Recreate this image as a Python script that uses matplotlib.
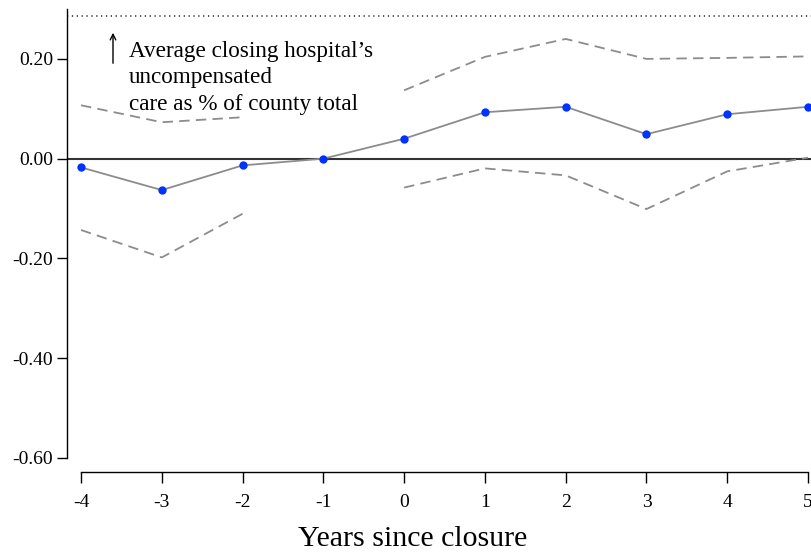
import numpy as np
import matplotlib
matplotlib.use("Agg")
import matplotlib.pyplot as plt

years = [-4, -3, -2, -1, 0, 1, 2, 3, 4, 5]
estimate = [-0.0175, -0.063, -0.0135, 0.0, 0.040, 0.093, 0.104, 0.049, 0.089, 0.104]
ci_upper = [0.107, 0.073, 0.083, np.nan, 0.137, 0.204, 0.240, 0.200, 0.202, 0.205]
ci_lower = [-0.143, -0.198, -0.1105, np.nan, -0.058, -0.0195, -0.0335, -0.101, -0.0255, 0.002]
avg_share = 0.2855
yticks = [-0.6, -0.4, -0.2, 0.0, 0.2]
ytick_labels = ["-0.60", "-0.40", "-0.20", "0.00", "0.20"]
xlabel = "Years since closure"
note_lines = ["Average closing hospital\u2019s", "uncompensated", "care as % of county total"]

plt.rcParams['font.family'] = ['Liberation Serif', 'DejaVu Serif']
plt.rcParams['lines.scale_dashes'] = False

W, H = 811, 552
fig = plt.figure(figsize=(W / 100, H / 100), dpi=100)
ax = fig.add_axes([67 / W, (H - 472) / H, (811 - 67) / W, (472 - 9) / H])

ppu_x = (808 - 81) / 9.0
ppu_y = (458 - 59.5) / 0.8
ax.set_xlim(-4 - 14 / ppu_x, 5 + 3 / ppu_x)
ax.set_ylim(-0.6 - 14 / ppu_y, 0.3)

gray = '#8c8c8c'
ax.axhline(0, color='#333333', lw=1.5, zorder=2)
ax.axhline(avg_share, color='#222222', lw=1.1, linestyle=(0, (0.9, 2.6)), zorder=2)

ax.plot(years, ci_upper, color=gray, lw=1.3, linestyle=(0, (7.5, 4.5)), zorder=3)
ax.plot(years, ci_lower, color=gray, lw=1.3, linestyle=(0, (7.5, 4.5)), zorder=3)
ax.plot(years, estimate, color=gray, lw=1.3, zorder=4)
ax.plot(years, estimate, 'o', color='#0033ff', markersize=6.0, markeredgewidth=0, zorder=5,
        clip_on=False)

for s in ['top', 'right']:
    ax.spines[s].set_visible(False)
ax.spines['left'].set_bounds(-0.6, 0.3)
ax.spines['bottom'].set_bounds(-4, 5)
ax.spines['left'].set_linewidth(1.0)
ax.spines['bottom'].set_linewidth(1.0)

ax.set_yticks(yticks)
ax.set_yticklabels(ytick_labels)
ax.set_xticks(years)
ax.set_xticklabels([str(y) for y in years])
ax.tick_params(axis='y', length=7, width=1.0, labelsize=14, pad=3)
ax.tick_params(axis='x', length=8, width=1.0, labelsize=14, pad=8)

fig.text(413 / W, (H - 546) / H, xlabel, fontsize=21.5, ha='center', va='baseline')

ax.annotate('', xy=(113 / W, (H - 30) / H), xytext=(113 / W, (H - 66) / H),
            xycoords='figure fraction', textcoords='figure fraction',
            arrowprops=dict(arrowstyle='->', lw=1.0, color='black',
                            mutation_scale=10))
for i, line in enumerate(note_lines):
    fig.text(129 / W, (H - (57 + 26.5 * i)) / H, line, fontsize=16.7,
             va='baseline', ha='left')

fig.savefig('out.png', dpi=100)
